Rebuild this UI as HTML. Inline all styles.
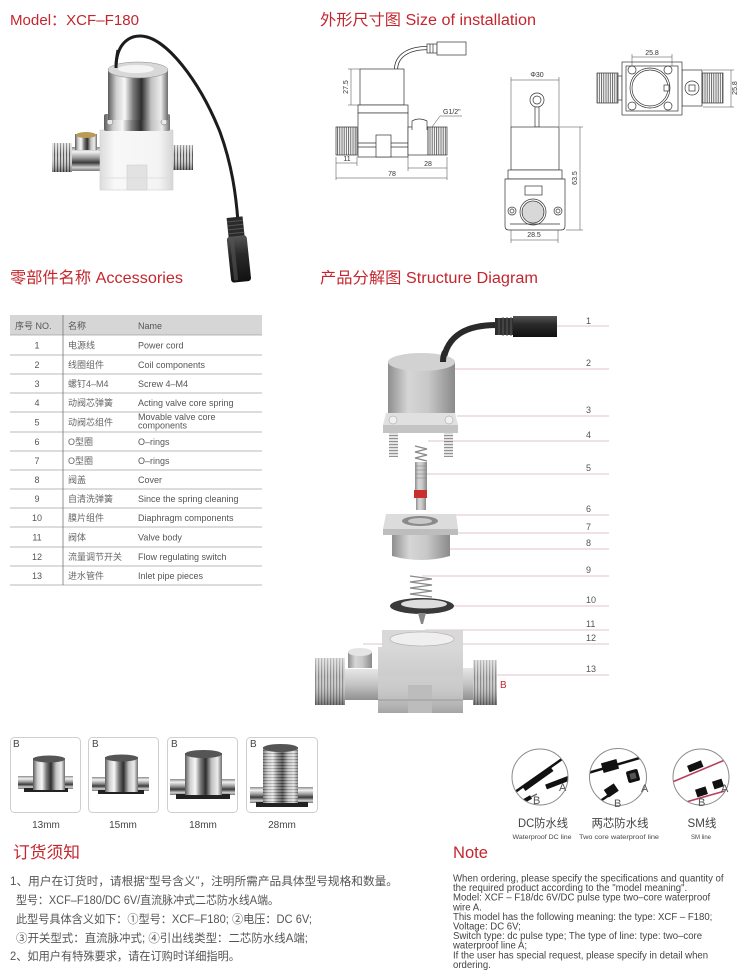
<!DOCTYPE html>
<html><head><meta charset="utf-8"><style>
html,body{margin:0;padding:0;background:#fff;}
svg{display:block;}
text{font-family:"Liberation Sans","Noto Sans CJK SC",sans-serif;}
</style></head><body>
<svg width="750" height="977" viewBox="0 0 750 977" xmlns="http://www.w3.org/2000/svg">
<defs>
 <linearGradient id="chromeH" x1="0" x2="1" y1="0" y2="0">
  <stop offset="0" stop-color="#5b5b5b"/><stop offset=".14" stop-color="#cfcfcf"/><stop offset=".28" stop-color="#f7f7f7"/><stop offset=".42" stop-color="#7a7a7a"/><stop offset=".56" stop-color="#2e2e2e"/><stop offset=".72" stop-color="#c2c2c2"/><stop offset=".88" stop-color="#ececec"/><stop offset="1" stop-color="#6d6d6d"/>
 </linearGradient>
 <linearGradient id="chromeV" x1="0" x2="0" y1="0" y2="1">
  <stop offset="0" stop-color="#8a8a8a"/><stop offset=".2" stop-color="#f2f2f2"/><stop offset=".45" stop-color="#9a9a9a"/><stop offset=".65" stop-color="#3a3a3a"/><stop offset=".85" stop-color="#d0d0d0"/><stop offset="1" stop-color="#777"/>
 </linearGradient>
 <linearGradient id="grayCyl" x1="0" x2="1" y1="0" y2="0">
  <stop offset="0" stop-color="#8e8e8e"/><stop offset=".3" stop-color="#d6d6d6"/><stop offset=".6" stop-color="#c8c8c8"/><stop offset="1" stop-color="#8a8a8a"/>
 </linearGradient>
 <linearGradient id="grayV" x1="0" x2="0" y1="0" y2="1">
  <stop offset="0" stop-color="#e6e6e6"/><stop offset=".5" stop-color="#c4c4c4"/><stop offset="1" stop-color="#909090"/>
 </linearGradient>
 <linearGradient id="whiteBody" x1="0" x2="1" y1="0" y2="0">
  <stop offset="0" stop-color="#dcdcdc"/><stop offset=".2" stop-color="#f8f8f8"/><stop offset=".8" stop-color="#f4f4f4"/><stop offset="1" stop-color="#d6d6d6"/>
 </linearGradient>
 <linearGradient id="shadeV" x1="0" x2="0" y1="0" y2="1">
  <stop offset="0" stop-color="#fff" stop-opacity=".45"/><stop offset=".4" stop-color="#fff" stop-opacity="0"/><stop offset="1" stop-color="#000" stop-opacity=".4"/>
 </linearGradient>
 <linearGradient id="plugG" x1="0" x2="0" y1="0" y2="1">
  <stop offset="0" stop-color="#555"/><stop offset=".4" stop-color="#2a2a2a"/><stop offset="1" stop-color="#111"/>
 </linearGradient>
 <pattern id="thrD" width="2.2" height="10" patternUnits="userSpaceOnUse">
  <rect width="2.2" height="10" fill="#fff"/><line x1="1" y1="0" x2="1" y2="10" stroke="#555" stroke-width="0.9"/>
 </pattern>
 <pattern id="thrP" width="3" height="60" patternUnits="userSpaceOnUse">
  <rect width="3" height="60" fill="#c4c4c4"/><rect x="0" width="1.1" height="60" fill="#555"/><rect x="1.6" width="0.8" height="60" fill="#f2f2f2"/>
 </pattern>
 <pattern id="thrG" width="3" height="60" patternUnits="userSpaceOnUse">
  <rect width="3" height="60" fill="#cfcfcf"/><rect x="0" width="1.2" height="60" fill="#888"/>
 </pattern>
 <pattern id="thrH" width="60" height="3" patternUnits="userSpaceOnUse">
  <rect width="60" height="3" fill="#c8c8c8"/><rect y="0" width="60" height="1.1" fill="#4a4a4a"/><rect y="1.7" width="60" height="0.7" fill="#f4f4f4"/>
 </pattern>
 <pattern id="gridP" width="2" height="2" patternUnits="userSpaceOnUse">
  <rect width="2" height="2" fill="#fff"/><circle cx="1" cy="1" r="0.6" fill="#777"/>
 </pattern>
 <clipPath id="c1"><circle cx="540" cy="777" r="28"/></clipPath>
 <clipPath id="c2"><circle cx="618" cy="777" r="28.5"/></clipPath>
 <clipPath id="c3"><circle cx="701" cy="777" r="28"/></clipPath>
</defs>

<!-- ============ HEADERS ============ -->
<g fill="#c4262e">
 <text x="10" y="25" font-size="15" textLength="129" lengthAdjust="spacingAndGlyphs">Model：XCF–F180</text>
 <text x="320" y="25" font-size="15.5" textLength="216" lengthAdjust="spacingAndGlyphs">外形尺寸图 Size of installation</text>
 <text x="10" y="283" font-size="16" textLength="173" lengthAdjust="spacingAndGlyphs">零部件名称 Accessories</text>
 <text x="320" y="283" font-size="15.5" textLength="218" lengthAdjust="spacingAndGlyphs">产品分解图 Structure Diagram</text>
 <text x="13" y="858" font-size="16.5" textLength="67" lengthAdjust="spacingAndGlyphs">订货须知</text>
 <text x="453" y="858" font-size="17" textLength="35" lengthAdjust="spacingAndGlyphs">Note</text>
</g>

<!-- ============ PRODUCT PHOTO ============ -->
<g>
 <path d="M116,68 C116,46 127,36 140,36 C166,36 200,82 220,132 C232,165 236,195 238,222" fill="none" stroke="#1c1c1c" stroke-width="3"/>
 <rect x="70" y="147" width="32" height="24" fill="url(#chromeV)"/>
 <rect x="75" y="134" width="22" height="16" fill="url(#chromeH)"/>
 <ellipse cx="86" cy="135" rx="10" ry="3" fill="#b89a55"/>
 <rect x="52" y="143" width="20" height="29" fill="url(#thrP)"/>
 <rect x="52" y="143" width="20" height="29" fill="url(#shadeV)"/>
 <rect x="170" y="145" width="23" height="25" fill="url(#thrP)"/>
 <rect x="170" y="145" width="23" height="25" fill="url(#shadeV)"/>
 <rect x="100" y="130" width="73" height="60" fill="url(#whiteBody)" stroke="#cfcfcf" stroke-width="0.6"/>
 <rect x="127" y="165" width="20" height="25" fill="#e2e2e2" stroke="#cfcfcf" stroke-width="0.6"/>
 <line x1="100" y1="178" x2="173" y2="178" stroke="#d8d8d8" stroke-width="0.8"/>
 <rect x="104" y="114" width="66" height="17" rx="2" fill="url(#chromeH)"/>
 <circle cx="110" cy="122" r="3" fill="#e8e8e8" stroke="#666" stroke-width="0.5"/>
 <circle cx="164" cy="122" r="3" fill="#e8e8e8" stroke="#666" stroke-width="0.5"/>
 <rect x="108" y="70" width="60" height="50" fill="url(#chromeH)"/>
 <ellipse cx="138" cy="70" rx="30" ry="8" fill="#d8d8d8" stroke="#888" stroke-width="0.5"/>
 <ellipse cx="136" cy="69" rx="18" ry="4" fill="#f4f4f4"/>
 <path d="M116,68 C116,60 117,55 118,50" fill="none" stroke="#1c1c1c" stroke-width="3"/>
 <g transform="rotate(-6 238 250)">
  <rect x="230" y="217" width="16" height="20" fill="#2a2a2a"/>
  <g stroke="#555" stroke-width="1"><line x1="230" y1="221" x2="246" y2="221"/><line x1="230" y1="225" x2="246" y2="225"/><line x1="230" y1="229" x2="246" y2="229"/><line x1="230" y1="233" x2="246" y2="233"/></g>
  <rect x="228" y="236" width="20" height="46" rx="3" fill="url(#plugG)"/>
  <rect x="231" y="238" width="4" height="42" fill="#555" opacity=".6"/>
 </g>
</g>

<!-- ============ DIMENSION DRAWING 1 ============ -->
<g stroke="#333" stroke-width="0.7" fill="#fff">
 <path d="M396,70 C396,56 408,48 428,48" fill="none" stroke-width="4"/>
 <path d="M396,70 C396,56 408,48 428,48" fill="none" stroke="#fff" stroke-width="2.4"/>
 <rect x="427" y="44" width="10" height="9"/>
 <line x1="430" y1="44" x2="430" y2="53"/><line x1="433" y1="44" x2="433" y2="53"/>
 <rect x="437" y="42" width="29" height="13"/>
 <rect x="360" y="69" width="44" height="36"/>
 <rect x="358" y="105" width="50" height="8"/>
 <rect x="358" y="113" width="50" height="44"/>
 <line x1="358" y1="143" x2="408" y2="143"/><line x1="358" y1="147" x2="408" y2="147"/>
 <rect x="376" y="135" width="15" height="22"/>
 <rect x="336" y="127" width="21" height="28" fill="url(#thrD)"/>
 <rect x="408" y="127" width="20" height="28"/>
 <path d="M412,130 L412,121 Q419,117 427,121 L427,130"/>
 <rect x="428" y="127" width="19" height="28" fill="url(#thrD)"/>
</g>
<g stroke="#444" stroke-width="0.5" fill="none">
 <line x1="351" y1="69" x2="351" y2="105"/><line x1="348" y1="69" x2="360" y2="69"/><line x1="348" y1="105" x2="360" y2="105"/>
 <line x1="336" y1="157" x2="336" y2="180"/><line x1="357" y1="157" x2="357" y2="166"/>
 <line x1="336" y1="163" x2="357" y2="163"/>
 <line x1="408" y1="157" x2="408" y2="171"/><line x1="447" y1="157" x2="447" y2="180"/>
 <line x1="408" y1="168" x2="447" y2="168"/>
 <line x1="336" y1="178" x2="447" y2="178"/>
 <line x1="440" y1="116" x2="432" y2="127"/><line x1="440" y1="116" x2="462" y2="116"/>
</g>
<g font-size="7" fill="#333">
 <text x="348" y="87" text-anchor="middle" transform="rotate(-90 348 87)">27.5</text>
 <text x="347" y="161" text-anchor="middle">11</text>
 <text x="428" y="166" text-anchor="middle">28</text>
 <text x="392" y="176" text-anchor="middle">78</text>
 <text x="443" y="114">G1/2"</text>
</g>

<!-- ============ DIMENSION DRAWING 2 ============ -->
<g stroke="#333" stroke-width="0.7" fill="#fff">
 <circle cx="537" cy="100" r="7"/><circle cx="537" cy="100" r="4"/>
 <rect x="535" y="107" width="4" height="20"/>
 <rect x="511" y="127" width="48" height="43"/>
 <rect x="508" y="170" width="54" height="9"/>
 <path d="M505,179 L565,179 L565,226 Q565,230 561,230 L509,230 Q505,230 505,226 Z"/>
 <rect x="525" y="186" width="17" height="9"/>
 <circle cx="533" cy="212" r="13"/>
 <circle cx="533" cy="212" r="11" fill="url(#gridP)"/>
 <circle cx="512" cy="211" r="4"/><circle cx="512" cy="211" r="2"/>
 <circle cx="558" cy="211" r="4"/><circle cx="558" cy="211" r="2"/>
 <line x1="510" y1="224" x2="560" y2="224"/>
</g>
<g stroke="#444" stroke-width="0.5" fill="none">
 <line x1="511" y1="80" x2="559" y2="80"/><line x1="511" y1="77" x2="511" y2="127"/><line x1="559" y1="77" x2="559" y2="127"/>
 <line x1="580" y1="127" x2="580" y2="230"/><line x1="560" y1="127" x2="583" y2="127"/><line x1="566" y1="230" x2="583" y2="230"/>
 <line x1="511" y1="240" x2="558" y2="240"/><line x1="511" y1="230" x2="511" y2="243"/><line x1="558" y1="230" x2="558" y2="243"/>
</g>
<g font-size="7" fill="#333">
 <text x="537" y="77" text-anchor="middle">Φ30</text>
 <text x="577" y="178" text-anchor="middle" transform="rotate(-90 577 178)">63.5</text>
 <text x="534" y="237" text-anchor="middle">28.5</text>
</g>

<!-- ============ DIMENSION DRAWING 3 ============ -->
<g stroke="#333" stroke-width="0.7" fill="#fff">
 <rect x="597" y="73" width="21" height="30" fill="url(#thrD)"/>
 <rect x="618" y="76" width="4" height="24"/>
 <rect x="682" y="70" width="20" height="36"/>
 <circle cx="692" cy="88" r="7"/><rect x="689" y="85" width="6" height="6"/>
 <rect x="702" y="73" width="21" height="30" fill="url(#thrD)"/>
 <rect x="622" y="62" width="60" height="53"/>
 <rect x="626" y="66" width="52" height="45"/>
 <circle cx="650" cy="88" r="20"/><circle cx="650" cy="88" r="18"/>
 <rect x="664" y="85" width="5" height="6"/>
 <circle cx="632" cy="70" r="4"/><circle cx="668" cy="70" r="4"/>
 <circle cx="632" cy="106" r="4"/><circle cx="668" cy="106" r="4"/>
</g>
<g stroke="#444" stroke-width="0.5" fill="none">
 <line x1="632" y1="57" x2="672" y2="57"/><line x1="632" y1="54" x2="632" y2="66"/><line x1="672" y1="54" x2="672" y2="66"/>
 <line x1="731" y1="70" x2="731" y2="107"/><line x1="703" y1="70" x2="734" y2="70"/><line x1="703" y1="107" x2="734" y2="107"/>
</g>
<g font-size="7" fill="#333">
 <text x="652" y="55" text-anchor="middle">25.8</text>
 <text x="737" y="88" text-anchor="middle" transform="rotate(-90 737 88)">25.8</text>
</g>

<!-- ============ ACCESSORIES TABLE ============ -->
<rect x="10" y="315" width="252" height="20" fill="#d6d6d6"/>
<g stroke="#a0a0a0" stroke-width="0.8">
 <line x1="10" y1="335" x2="262" y2="335"/><line x1="10" y1="355" x2="262" y2="355"/>
 <line x1="10" y1="374" x2="262" y2="374"/><line x1="10" y1="393" x2="262" y2="393"/>
 <line x1="10" y1="412" x2="262" y2="412"/><line x1="10" y1="432" x2="262" y2="432"/>
 <line x1="10" y1="451" x2="262" y2="451"/><line x1="10" y1="470" x2="262" y2="470"/>
 <line x1="10" y1="489" x2="262" y2="489"/><line x1="10" y1="508" x2="262" y2="508"/>
 <line x1="10" y1="527" x2="262" y2="527"/><line x1="10" y1="547" x2="262" y2="547"/>
 <line x1="10" y1="566" x2="262" y2="566"/><line x1="10" y1="585" x2="262" y2="585"/>
</g>
<line x1="63" y1="315" x2="63" y2="585" stroke="#777" stroke-width="0.8"/>
<g font-size="9" fill="#555">
 <text x="15" y="329">序号 NO.</text><text x="68" y="329">名称</text><text x="138" y="329">Name</text>
</g>
<g font-size="9" fill="#555" text-anchor="middle">
 <text x="37" y="348.5">1</text><text x="37" y="368">2</text><text x="37" y="387">3</text>
 <text x="37" y="406">4</text><text x="37" y="425.5">5</text><text x="37" y="445">6</text>
 <text x="37" y="464">7</text><text x="37" y="483">8</text><text x="37" y="502">9</text>
 <text x="37" y="521">10</text><text x="37" y="540.5">11</text><text x="37" y="560">12</text>
 <text x="37" y="579">13</text>
</g>
<g font-size="9" fill="#666">
 <text x="68" y="348.5">电源线</text><text x="68" y="368">线圈组件</text><text x="68" y="387">螺钉4–M4</text>
 <text x="68" y="406">动阀芯弹簧</text><text x="68" y="425.5">动阀芯组件</text><text x="68" y="445">O型圈</text>
 <text x="68" y="464">O型圈</text><text x="68" y="483">阀盖</text><text x="68" y="502">自清洗弹簧</text>
 <text x="68" y="521">膜片组件</text><text x="68" y="540.5">阀体</text><text x="68" y="560">流量调节开关</text>
 <text x="68" y="579">进水管件</text>
</g>
<g font-size="9" fill="#555">
 <text x="138" y="348.5">Power cord</text><text x="138" y="368">Coil components</text><text x="138" y="387">Screw 4–M4</text>
 <text x="138" y="406">Acting valve core spring</text>
 <text x="138" y="420">Movable valve core</text><text x="138" y="428.5">components</text>
 <text x="138" y="445">O–rings</text>
 <text x="138" y="464">O–rings</text><text x="138" y="483">Cover</text><text x="138" y="502">Since the spring cleaning</text>
 <text x="138" y="521">Diaphragm components</text><text x="138" y="540.5">Valve body</text><text x="138" y="560">Flow regulating switch</text>
 <text x="138" y="579">Inlet pipe pieces</text>
</g>

<!-- ============ STRUCTURE DIAGRAM ============ -->
<g stroke="#d9b3b8" stroke-width="0.8">
 <line x1="557" y1="326" x2="609" y2="326"/>
 <line x1="453" y1="369" x2="609" y2="369"/>
 <line x1="457" y1="416" x2="609" y2="416"/>
 <line x1="428" y1="441" x2="609" y2="441"/>
 <line x1="423" y1="474" x2="609" y2="474"/>
 <line x1="428" y1="515" x2="609" y2="515"/>
 <line x1="427" y1="533" x2="609" y2="533"/>
 <line x1="425" y1="549" x2="609" y2="549"/>
 <line x1="422" y1="576" x2="609" y2="576"/>
 <line x1="430" y1="606" x2="609" y2="606"/>
 <line x1="425" y1="630" x2="609" y2="630"/>
 <line x1="363" y1="644" x2="609" y2="644"/>
 <line x1="333" y1="675" x2="609" y2="675"/>
</g>
<g font-size="9" fill="#555">
 <text x="586" y="324">1</text><text x="586" y="366">2</text><text x="586" y="413">3</text>
 <text x="586" y="438">4</text><text x="586" y="471">5</text><text x="586" y="512">6</text>
 <text x="586" y="530">7</text><text x="586" y="546">8</text><text x="586" y="573">9</text>
 <text x="586" y="603">10</text><text x="586" y="627">11</text><text x="586" y="641">12</text>
 <text x="586" y="672">13</text>
</g>
<path d="M497,325 C468,325 447,334 443,362" fill="none" stroke="#2a2a2a" stroke-width="6"/>
<rect x="495" y="318" width="19" height="17" fill="#2e2e2e"/>
<g stroke="#5a5a5a" stroke-width="1"><line x1="499" y1="318" x2="499" y2="335"/><line x1="503" y1="317" x2="503" y2="336"/><line x1="507" y1="317" x2="507" y2="336"/><line x1="511" y1="317" x2="511" y2="336"/></g>
<rect x="513" y="316" width="44" height="21" fill="url(#plugG)"/>
<rect x="388" y="362" width="67" height="61" fill="url(#grayCyl)"/>
<ellipse cx="421.5" cy="362" rx="33.5" ry="9" fill="#d2d2d2"/>
<path d="M443,362 C443,357 444,354 445,352" stroke="#2a2a2a" stroke-width="6" fill="none"/>
<path d="M386,413 L455,413 L458,425 L383,425 Z" fill="#e0e0e0"/>
<rect x="383" y="425" width="75" height="8" fill="#c4c4c4"/>
<circle cx="393" cy="420" r="4" fill="#f0f0f0" stroke="#999" stroke-width="0.5"/>
<circle cx="449" cy="420" r="4" fill="#f0f0f0" stroke="#999" stroke-width="0.5"/>
<rect x="389" y="433" width="9" height="24" fill="url(#thrH)" opacity=".6"/>
<rect x="444" y="433" width="9" height="24" fill="url(#thrH)" opacity=".6"/>
<path d="M415,446 L427,449 L415,452 L427,455 L415,458 L427,461" fill="none" stroke="#888" stroke-width="1.3"/>
<rect x="415" y="462" width="12" height="28" fill="url(#grayCyl)"/>
<g stroke="#888" stroke-width="0.6"><line x1="415" y1="466" x2="427" y2="466"/><line x1="415" y1="470" x2="427" y2="470"/><line x1="415" y1="474" x2="427" y2="474"/><line x1="415" y1="478" x2="427" y2="478"/></g>
<rect x="414" y="490" width="13" height="8" fill="#c8302e"/>
<rect x="416" y="498" width="10" height="12" fill="url(#grayCyl)"/>
<path d="M386,514 L456,514 L458,529 L383,529 Z" fill="#dcdcdc"/>
<ellipse cx="420" cy="521" rx="18" ry="5" fill="#8a8a8a"/>
<ellipse cx="420" cy="521" rx="12" ry="3" fill="#c8c8c8"/>
<rect x="383" y="529" width="75" height="6" fill="#bdbdbd"/>
<path d="M392,535 L450,535 L450,556 Q421,564 392,556 Z" fill="url(#grayCyl)"/>
<path d="M410,576 L432,579 L410,582 L432,585 L410,588 L432,591 L410,594 L432,597" fill="none" stroke="#8a8a8a" stroke-width="1.3"/>
<ellipse cx="422" cy="606" rx="32" ry="8" fill="#3a3a3a"/>
<ellipse cx="424" cy="604" rx="23" ry="4.5" fill="#ddd"/>
<path d="M418,613 L426,613 L423,624 L421,624 Z" fill="#888"/>
<rect x="345" y="669" width="35" height="31" fill="url(#grayV)"/>
<rect x="315" y="658" width="30" height="47" fill="url(#thrG)"/>
<rect x="315" y="658" width="30" height="47" fill="url(#shadeV)"/>
<rect x="461" y="668" width="13" height="32" fill="url(#grayV)"/>
<rect x="473" y="660" width="24" height="45" fill="url(#thrG)"/>
<rect x="473" y="660" width="24" height="45" fill="url(#shadeV)"/>
<rect x="378" y="647" width="85" height="66" fill="#cdcdcd"/>
<rect x="378" y="647" width="85" height="66" fill="url(#shadeV)" opacity=".5"/>
<rect x="382" y="630" width="81" height="18" fill="#d8d8d8"/>
<ellipse cx="422" cy="639" rx="32" ry="7" fill="#efefef" stroke="#aaa" stroke-width="0.6"/>
<rect x="408" y="685" width="24" height="28" fill="#bcbcbc"/>
<line x1="378" y1="700" x2="463" y2="700" stroke="#999" stroke-width="1"/>
<rect x="348" y="652" width="24" height="16" fill="url(#grayCyl)"/>
<ellipse cx="360" cy="652" rx="12" ry="4" fill="#e4e4e4"/>
<text x="500" y="688" font-size="10" fill="#c4262e">B</text>

<!-- ============ THUMBNAILS ============ -->
<g fill="#fff" stroke="#cfcfcf" stroke-width="1">
 <rect x="10.5" y="737.5" width="70" height="75" rx="4"/>
 <rect x="88.5" y="737.5" width="70" height="75" rx="4"/>
 <rect x="167.5" y="737.5" width="70" height="75" rx="4"/>
 <rect x="246.5" y="737.5" width="71" height="75" rx="4"/>
</g>
<g>
 <rect x="18" y="776" width="55" height="13" fill="url(#chromeV)"/><rect x="24" y="788" width="44" height="4" fill="#222"/>
 <rect x="33" y="758" width="32" height="32" fill="url(#chromeH)"/><ellipse cx="49" cy="759" rx="16" ry="3.5" fill="#555"/>
 <rect x="92" y="777" width="57" height="14" fill="url(#chromeV)"/><rect x="98" y="790" width="46" height="4" fill="#222"/>
 <rect x="105" y="757" width="33" height="35" fill="url(#chromeH)"/><ellipse cx="121.5" cy="758" rx="16.5" ry="3.5" fill="#555"/>
 <rect x="170" y="779" width="65" height="16" fill="url(#chromeV)"/><rect x="176" y="794" width="54" height="5" fill="#222"/>
 <rect x="185" y="753" width="37" height="42" fill="url(#chromeH)"/><ellipse cx="203.5" cy="754" rx="18.5" ry="4" fill="#555"/>
 <rect x="250" y="787" width="63" height="16" fill="url(#chromeV)"/><rect x="256" y="802" width="52" height="5" fill="#222"/>
 <rect x="263" y="747" width="35" height="56" fill="url(#chromeH)"/><rect x="263" y="747" width="35" height="56" fill="url(#thrH)" opacity=".35"/>
 <ellipse cx="280.5" cy="748" rx="17.5" ry="4" fill="#555"/>
</g>
<g font-size="10" fill="#444">
 <text x="13" y="747">B</text><text x="92" y="747">B</text><text x="171" y="747">B</text><text x="250" y="747">B</text>
</g>
<g font-size="10" fill="#444" text-anchor="middle">
 <text x="46" y="828">13mm</text><text x="123" y="828">15mm</text><text x="203" y="828">18mm</text><text x="282" y="828">28mm</text>
</g>

<!-- ============ CABLE ICONS ============ -->
<g clip-path="url(#c1)">
 <circle cx="540" cy="777" r="28" fill="#fff"/>
 <line x1="572" y1="752" x2="508" y2="797" stroke="#111" stroke-width="2.5"/>
 <line x1="552" y1="769" x2="524" y2="789" stroke="#111" stroke-width="5"/>
 <line x1="510" y1="809" x2="531" y2="797" stroke="#111" stroke-width="4"/>
 <line x1="531" y1="797" x2="537" y2="794" stroke="#666" stroke-width="1.5"/>
 <line x1="546" y1="787" x2="572" y2="777" stroke="#111" stroke-width="5"/>
</g>
<circle cx="540" cy="777" r="28" fill="none" stroke="#8a8a8a" stroke-width="1"/>
<g clip-path="url(#c2)">
 <circle cx="618" cy="777" r="28.5" fill="#fff"/>
 <line x1="588" y1="773" x2="650" y2="755" stroke="#111" stroke-width="2.5"/>
 <rect x="602" y="761" width="16" height="10" fill="#111" transform="rotate(-16 610 766)"/>
 <line x1="590" y1="808" x2="615" y2="791" stroke="#111" stroke-width="2.5"/>
 <rect x="605" y="786" width="12" height="9" fill="#111" transform="rotate(-34 611 790)"/>
 <rect x="627" y="770" width="12" height="12" rx="2" fill="#111" transform="rotate(-15 633 776)"/>
 <rect x="630" y="773" width="6" height="6" fill="#555" transform="rotate(-15 633 776)"/>
</g>
<circle cx="618" cy="777" r="28.5" fill="none" stroke="#8a8a8a" stroke-width="1"/>
<g clip-path="url(#c3)">
 <circle cx="701" cy="777" r="28" fill="#fff"/>
 <line x1="670" y1="783" x2="732" y2="757" stroke="#b8405e" stroke-width="1.6"/>
 <line x1="672" y1="806" x2="732" y2="789" stroke="#b8405e" stroke-width="1.6"/>
 <rect x="688" y="763" width="15" height="7" fill="#111" transform="rotate(-22 695 767)"/>
 <rect x="696" y="788" width="11" height="8" fill="#111" transform="rotate(-18 701 792)"/>
 <rect x="713" y="780" width="10" height="8" fill="#111" transform="rotate(-18 718 784)"/>
</g>
<circle cx="701" cy="777" r="28" fill="none" stroke="#8a8a8a" stroke-width="1"/>
<g font-size="11" fill="#555">
 <text x="559" y="791">A</text><text x="533" y="804">B</text>
 <text x="641" y="792">A</text><text x="614" y="807">B</text>
 <text x="721" y="792">A</text><text x="698" y="806">B</text>
</g>
<g font-size="11.5" fill="#444" text-anchor="middle">
 <text x="543" y="827" textLength="50" lengthAdjust="spacingAndGlyphs">DC防水线</text>
 <text x="620" y="827" textLength="57" lengthAdjust="spacingAndGlyphs">两芯防水线</text>
 <text x="702" y="827" textLength="29" lengthAdjust="spacingAndGlyphs">SM线</text>
</g>
<g font-size="6" fill="#444" text-anchor="middle">
 <text x="542" y="839" textLength="59" lengthAdjust="spacingAndGlyphs">Waterproof DC line</text>
 <text x="619" y="839" textLength="80" lengthAdjust="spacingAndGlyphs">Two core waterproof line</text>
 <text x="701" y="839" textLength="20" lengthAdjust="spacingAndGlyphs">SM line</text>
</g>

<!-- ============ ORDERING (CN) ============ -->
<g font-size="11.5" fill="#555">
 <text x="10" y="885" textLength="388" lengthAdjust="spacingAndGlyphs">1、用户在订货时，请根据“型号含义”，注明所需产品具体型号规格和数量。</text>
 <text x="16" y="904" textLength="263" lengthAdjust="spacingAndGlyphs">型号：XCF–F180/DC 6V/直流脉冲式二芯防水线A端。</text>
 <text x="16" y="923" textLength="296" lengthAdjust="spacingAndGlyphs">此型号具体含义如下：①型号：XCF–F180; ②电压：DC 6V;</text>
 <text x="16" y="942" textLength="292" lengthAdjust="spacingAndGlyphs">③开关型式：直流脉冲式; ④引出线类型：二芯防水线A端;</text>
 <text x="10" y="960" textLength="230" lengthAdjust="spacingAndGlyphs">2、如用户有特殊要求，请在订购时详细指明。</text>
</g>

<!-- ============ NOTE (EN) ============ -->
<g font-size="10.5" fill="#444" transform="translate(453 0) scale(0.913 1)">
 <text x="0" y="881.5">When ordering, please specify the specifications and quantity of</text>
 <text x="0" y="891.1">the required product according to the "model meaning".</text>
 <text x="0" y="900.7">Model: XCF – F18/dc 6V/DC pulse type two–core waterproof</text>
 <text x="0" y="910.3">wire A.</text>
 <text x="0" y="919.9">This model has the following meaning: the type: XCF – F180;</text>
 <text x="0" y="929.5">Voltage: DC 6V;</text>
 <text x="0" y="939.1">Switch type: dc pulse type; The type of line: type: two–core</text>
 <text x="0" y="948.7">waterproof line A;</text>
 <text x="0" y="958.3">If the user has special request, please specify in detail when</text>
 <text x="0" y="967.9">ordering.</text>
</g>
</svg>
</body></html>
